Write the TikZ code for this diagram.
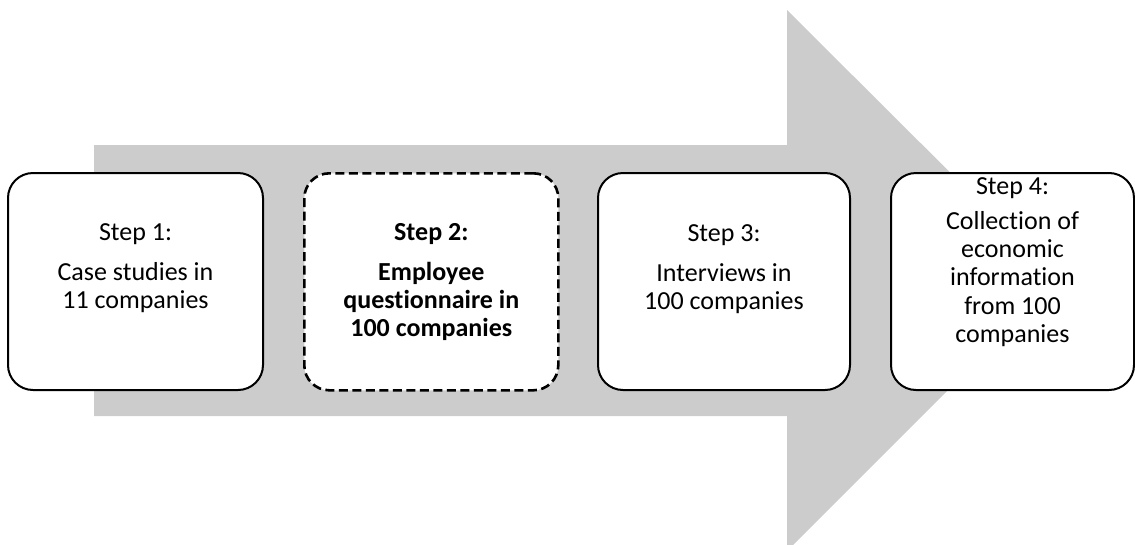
\documentclass[tikz,border=0pt]{standalone}
\usepackage{fontspec}
\setmainfont{Carlito}[Ligatures={NoCommon}]
\definecolor{arrowgray}{RGB}{204,204,204}
\begin{document}
\begin{tikzpicture}[x=1pt,y=-1pt,
  stepbox/.style={draw=black, line width=2pt, fill=white, rounded corners=25pt,
    minimum height=217pt, inner sep=0pt, anchor=north west},
  focusbox/.style={stepbox, line width=2.6pt, dash pattern=on 9pt off 4.5pt},
  steptext/.style={align=center, inner sep=0pt, anchor=north,
    font=\fontsize{26}{28.3}\selectfont}
]
\useasboundingbox (0,0) rectangle (1135,544);

% broad process arrow in the background
\fill[arrowgray] (94,145) -- (787,145) -- (787,10) -- (1058,280)
  -- (787,551) -- (787,416) -- (94,416) -- cycle;

% step boxes
\node[stepbox, minimum width=255pt] (s1) at (7,172) {};
\node[focusbox, minimum width=254pt] (s2) at (303,172) {};
\node[stepbox, minimum width=252pt] (s3) at (597,172) {};
\node[stepbox, minimum width=243pt] (s4) at (890,172) {};

% step texts
\node[steptext] (t1) at (s1.north |- 0,223) {Step 1:\\[11.7pt]Case studies in\\11 companies};
\node[steptext, font=\fontsize{26}{28.3}\selectfont\bfseries] (t2) at (s2.north |- 0,223)
  {Step 2:\\[11.7pt]Employee\\questionnaire in\\100 companies};
\node[steptext] (t3) at (s3.north |- 0,224) {Step 3:\\[11.7pt]Interviews in\\100 companies};
\node[steptext] (t4) at (s4.north |- 0,177)
  {Step 4:\\[7pt]Collection of\\economic\\information\\from 100\\companies};
\end{tikzpicture}
\end{document}
